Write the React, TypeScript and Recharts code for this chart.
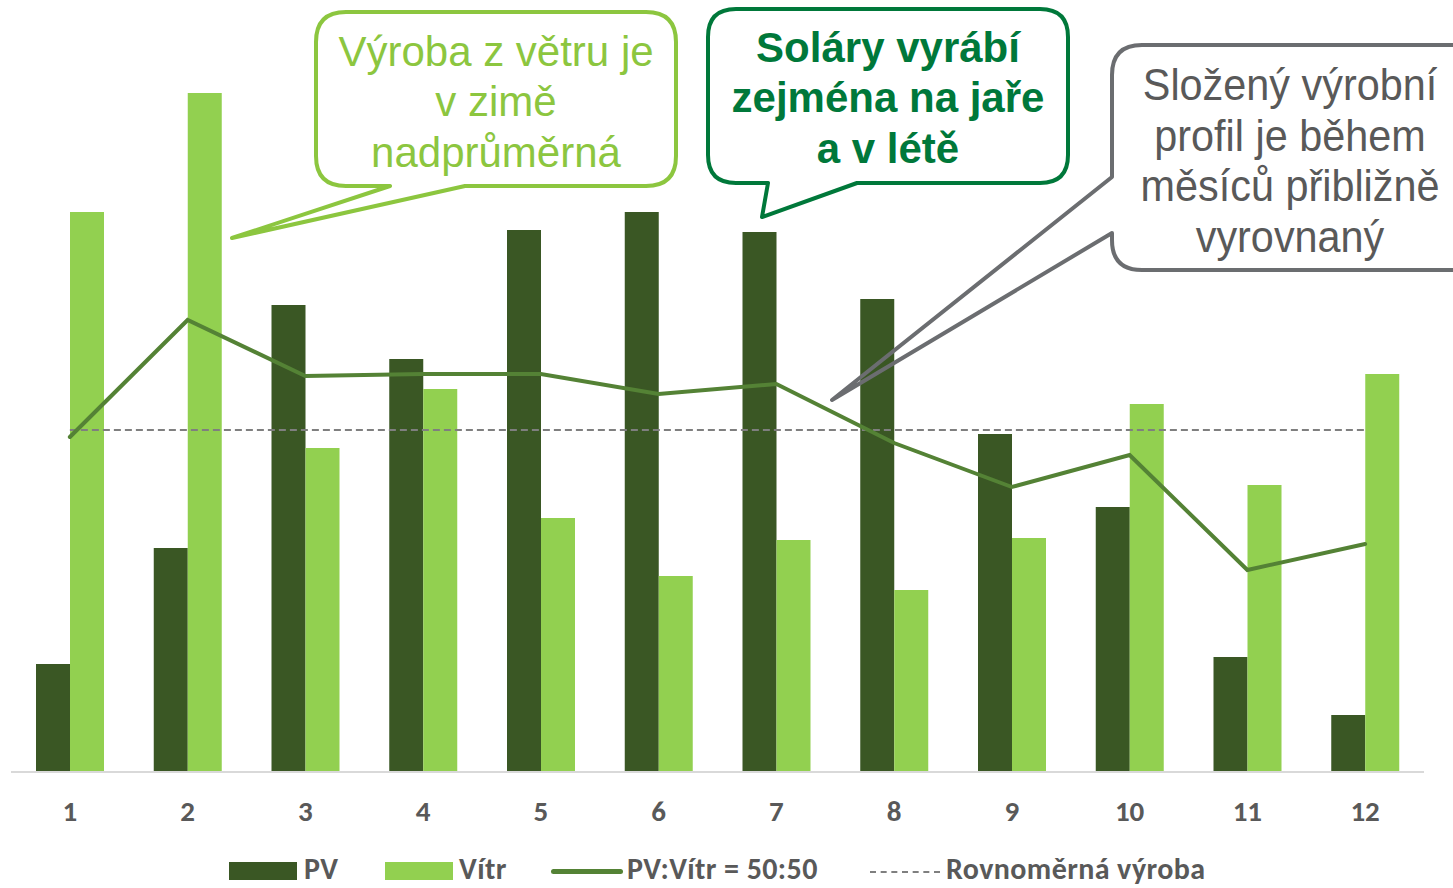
import { Bar, ComposedChart, Legend, Line, XAxis, YAxis } from "recharts";

const months = ["1", "2", "3", "4", "5", "6", "7", "8", "9", "10", "11", "12"];
const pv = [108, 224, 467, 413, 542, 560, 540, 473, 338, 265, 115, 57];
const vitr = [560, 679, 324, 383, 254, 196, 232, 182, 234, 368, 287, 398];
const mix = [335, 452, 396, 398, 398, 378, 388, 329, 285, 317, 202, 228];
const even = [342, 342, 342, 342, 342, 342, 342, 342, 342, 342, 342, 342];

const data = months.map((m, i) => ({
  month: m,
  pv: pv[i],
  vitr: vitr[i],
  mix: mix[i],
  even: even[i],
}));

const GRAY = "#595959";
const LEGEND_FONT = "Carlito, Lato, 'Open Sans', sans-serif";

function ChartLegend() {
  const txt = {
    position: "absolute" as const,
    top: 27,
    fontSize: 30,
    fontWeight: 700,
    color: GRAY,
    lineHeight: "28px",
    letterSpacing: 0.4,
    fontFamily: LEGEND_FONT,
    whiteSpace: "nowrap" as const,
  };
  return (
    <div style={{ position: "relative", width: 1453, height: 60 }}>
      <div style={{ position: "absolute", left: 229, top: 34, width: 68, height: 18, background: "#3a5724" }} />
      <span style={{ ...txt, left: 304 }}>PV</span>
      <div style={{ position: "absolute", left: 385, top: 34, width: 68, height: 18, background: "#92d050" }} />
      <span style={{ ...txt, left: 459 }}>Vítr</span>
      <div style={{ position: "absolute", left: 551, top: 41, width: 72, height: 5, borderRadius: 3, background: "#548235" }} />
      <span style={{ ...txt, left: 627 }}>PV:Vítr = 50:50</span>
      <div style={{ position: "absolute", left: 870, top: 43, width: 70, borderTop: "2px dashed #7f7f7f" }} />
      <span style={{ ...txt, left: 946 }}>Rovnoměrná výroba</span>
    </div>
  );
}

function Callouts() {
  const font = "'Liberation Sans', Arial, sans-serif";
  return (
    <svg width={1453} height={888} style={{ position: "absolute", left: 0, top: 0, pointerEvents: "none" }}>
      <path
        d="M346 12 H646 Q676 12 676 42 V156 Q676 186 646 186 H465 L232 238 L390 186 H346 Q316 186 316 156 V42 Q316 12 346 12 Z"
        fill="none" stroke="#8cc63f" strokeWidth={4} strokeLinejoin="round"
      />
      <g fill="#8cc63f" fontFamily={font} fontSize={42} textAnchor="middle">
        <text x={496} y={66}>Výroba z větru je</text>
        <text x={496} y={116}>v zimě</text>
        <text x={496} y={167}>nadprůměrná</text>
      </g>
      <path
        d="M736 9 H1040 Q1068 9 1068 37 V155 Q1068 183 1040 183 H857 L762 217 L768 183 H736 Q708 183 708 155 V37 Q708 9 736 9 Z"
        fill="none" stroke="#00783a" strokeWidth={4} strokeLinejoin="round"
      />
      <g fill="#00783a" fontFamily={font} fontSize={42} fontWeight={700} textAnchor="middle">
        <text x={888} y={62}>Soláry vyrábí</text>
        <text x={888} y={112}>zejména na jaře</text>
        <text x={888} y={163}>a v létě</text>
      </g>
      <path
        d="M1142 45 H1480 V270 H1142 Q1112 270 1112 240 V233 L832 400 L1112 177 V75 Q1112 45 1142 45 Z"
        fill="none" stroke="#6b6d70" strokeWidth={4} strokeLinejoin="round"
      />
      <g
        fill={GRAY}
        fontFamily={font}
        fontSize={45}
        textAnchor="middle"
        transform="translate(1290 0) scale(0.92 1)"
      >
        <text x={0} y={100}>Složený výrobní</text>
        <text x={0} y={151}>profil je během</text>
        <text x={0} y={201}>měsíců přibližně</text>
        <text x={0} y={252}>vyrovnaný</text>
      </g>
    </svg>
  );
}

export default function App() {
  return (
    <div style={{ position: "fixed", left: 0, top: 0, width: 1453, height: 888, background: "#fff" }}>
      <ComposedChart
        width={1453}
        height={888}
        data={data}
        margin={{ top: 12, right: 29, left: 11, bottom: 0 }}
        barGap={0}
      >
        <XAxis
          dataKey="month"
          height={56}
          axisLine={{ stroke: "#d9d9d9", strokeWidth: 2 }}
          tickLine={false}
          tickMargin={22}
          tick={{ fill: GRAY, fontSize: 29, fontWeight: 700, fontFamily: LEGEND_FONT }}
          interval={0}
        />
        <YAxis hide domain={[0, 760]} />
        <Bar dataKey="pv" name="PV" fill="#3a5724" barSize={34} isAnimationActive={false} />
        <Bar dataKey="vitr" name="Vítr" fill="#92d050" barSize={34} isAnimationActive={false} />
        <Line
          dataKey="even"
          name="Rovnoměrná výroba"
          stroke="#7f7f7f"
          strokeWidth={2}
          strokeDasharray="7 4"
          dot={false}
          activeDot={false}
          isAnimationActive={false}
        />
        <Line
          dataKey="mix"
          name="PV:Vítr = 50:50"
          stroke="#548235"
          strokeWidth={4}
          strokeLinecap="round"
          dot={false}
          activeDot={false}
          isAnimationActive={false}
        />
        <Legend verticalAlign="bottom" wrapperStyle={{ left: 0, width: 1453 }} content={() => <ChartLegend />} />
      </ComposedChart>
      <Callouts />
    </div>
  );
}
